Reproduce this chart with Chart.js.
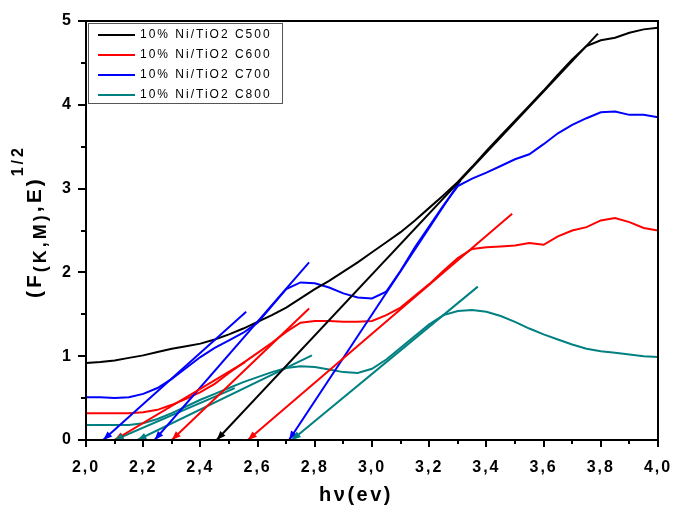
<!DOCTYPE html>
<html>
<head>
<meta charset="utf-8">
<script src="https://cdn.jsdelivr.net/npm/chart.js@4.4.0/dist/chart.umd.min.js"></script>
<style>
  html, body { margin: 0; padding: 0; background: #fff; }
  canvas { display: block; }
</style>
</head>
<body>
<canvas id="chart" width="673" height="506"></canvas>
<script>
// Photon energy grid (eV) shared by the four spectra
const energy = [2.00, 2.05, 2.10, 2.15, 2.20, 2.25, 2.30, 2.35, 2.40, 2.45,
  2.50, 2.55, 2.60, 2.65, 2.70, 2.75, 2.80, 2.85, 2.90, 2.95,
  3.00, 3.05, 3.10, 3.15, 3.20, 3.25, 3.30, 3.35, 3.40, 3.45,
  3.50, 3.55, 3.60, 3.65, 3.70, 3.75, 3.80, 3.85, 3.90, 3.95, 4.00];

// (F(R)·E)^1/2
const c500 = [0.92, 0.93, 0.95, 0.98, 1.01, 1.05, 1.09, 1.12, 1.15, 1.20,
  1.26, 1.33, 1.41, 1.49, 1.58, 1.69, 1.80, 1.90, 2.01, 2.12,
  2.24, 2.36, 2.48, 2.62, 2.77, 2.92, 3.08, 3.26, 3.45, 3.63,
  3.81, 3.99, 4.17, 4.36, 4.54, 4.70, 4.77, 4.80, 4.86, 4.90, 4.92];
const c600 = [0.32, 0.32, 0.32, 0.32, 0.33, 0.36, 0.42, 0.49, 0.57, 0.67,
  0.80, 0.92, 1.04, 1.16, 1.29, 1.40, 1.42, 1.42, 1.41, 1.41,
  1.42, 1.49, 1.58, 1.72, 1.86, 2.02, 2.17, 2.28, 2.30, 2.31,
  2.32, 2.35, 2.33, 2.43, 2.50, 2.54, 2.62, 2.65, 2.60, 2.53, 2.50];
const c700 = [0.51, 0.51, 0.50, 0.51, 0.55, 0.62, 0.73, 0.86, 0.99, 1.10,
  1.19, 1.28, 1.40, 1.60, 1.80, 1.88, 1.87, 1.82, 1.75, 1.70,
  1.69, 1.77, 2.02, 2.30, 2.55, 2.80, 3.03, 3.12, 3.19, 3.27,
  3.35, 3.41, 3.53, 3.66, 3.76, 3.84, 3.91, 3.92, 3.88, 3.88, 3.85];
const c800 = [0.18, 0.18, 0.18, 0.18, 0.20, 0.25, 0.32, 0.40, 0.48, 0.55,
  0.62, 0.69, 0.75, 0.81, 0.86, 0.88, 0.87, 0.84, 0.81, 0.80,
  0.85, 0.96, 1.10, 1.24, 1.38, 1.49, 1.54, 1.55, 1.53, 1.48,
  1.41, 1.33, 1.26, 1.20, 1.14, 1.09, 1.06, 1.04, 1.02, 1.00, 0.99];

const seriesLabels = ['10% Ni/TiO2 C500', '10% Ni/TiO2 C600', '10% Ni/TiO2 C700', '10% Ni/TiO2 C800'];
const seriesColors = ['#000000', '#ff0000', '#0000ff', '#008080'];

// Tauc tangents: [x-intercept, x end, y end]
const c500Tangents = [[2.457, 3.79, 4.85]];
const c600Tangents = [[2.10, 2.556, 0.93], [2.30, 2.78, 1.57], [2.566, 3.49, 2.70]];
const c700Tangents = [[2.06, 2.56, 1.53], [2.24, 2.78, 2.12], [2.71, 3.31, 3.10]];
const c800Tangents = [[2.10, 2.52, 0.62], [2.18, 2.79, 1.01], [2.72, 3.37, 1.83]];

// Axis ticks
const xMajorTicks = [2.0, 2.2, 2.4, 2.6, 2.8, 3.0, 3.2, 3.4, 3.6, 3.8, 4.0];
const xMinorTicks = [2.1, 2.3, 2.5, 2.7, 2.9, 3.1, 3.3, 3.5, 3.7, 3.9];
const yMajorTicks = [0, 1, 2, 3, 4, 5];
const yMinorTicks = [0.5, 1.5, 2.5, 3.5, 4.5];

const FONT = 'Arial, "Liberation Sans", sans-serif';

const curves = [c500, c600, c700, c800];
const tangentSets = [c500Tangents, c600Tangents, c700Tangents, c800Tangents];

const datasets = [];
tangentSets.forEach((set, s) => {
  set.forEach(t => {
    datasets.push({
      label: '',
      data: [{ x: t[0], y: 0 }, { x: t[1], y: t[2] }],
      borderColor: seriesColors[s],
      borderWidth: 2,
      arrow: true,
    });
  });
});
curves.forEach((vals, s) => {
  datasets.push({
    label: seriesLabels[s],
    data: energy.map((e, i) => ({ x: e, y: vals[i] })),
    borderColor: seriesColors[s],
    borderWidth: 2,
  });
});

/**
 * Frame, minor ticks, arrowheads, legend and axis titles
 */
const decorPlugin = {
  id: 'decor',
  beforeDraw(chart) {
    chart.ctx.letterSpacing = '2px';
  },
  afterDatasetsDraw(chart) {
    const ctx = chart.ctx;
    ctx.save();
    chart.data.datasets.forEach((ds, i) => {
      if (!ds.arrow) return;
      const pts = chart.getDatasetMeta(i).data;
      const tip = pts[0], tail = pts[1];
      const ang = Math.atan2(tip.y - tail.y, tip.x - tail.x);
      const len = 9, half = 3.5;
      const bx = tip.x - len * Math.cos(ang), by = tip.y - len * Math.sin(ang);
      ctx.fillStyle = ds.borderColor;
      ctx.beginPath();
      ctx.moveTo(tip.x, tip.y);
      ctx.lineTo(bx + half * Math.sin(ang), by - half * Math.cos(ang));
      ctx.lineTo(bx - half * Math.sin(ang), by + half * Math.cos(ang));
      ctx.closePath();
      ctx.fill();
    });
    ctx.restore();
  },
  afterDraw(chart) {
    const ctx = chart.ctx;
    const a = chart.chartArea;
    const xs = chart.scales.x, ys = chart.scales.y;
    ctx.save();

    // frame
    ctx.strokeStyle = '#000';
    ctx.lineWidth = 2;
    ctx.strokeRect(a.left, a.top, a.right - a.left, a.bottom - a.top);

    // minor ticks
    ctx.beginPath();
    xMinorTicks.forEach(v => {
      const px = Math.round(xs.getPixelForValue(v));
      ctx.moveTo(px, a.bottom);
      ctx.lineTo(px, a.bottom + 4);
    });
    yMinorTicks.forEach(v => {
      const py = Math.round(ys.getPixelForValue(v));
      ctx.moveTo(a.left, py);
      ctx.lineTo(a.left - 5, py);
    });
    ctx.stroke();

    // legend
    const lx = a.left + 2, ly = a.top + 2, lw = 194, lh = 80;
    ctx.fillStyle = '#fff';
    ctx.fillRect(lx, ly, lw, lh);
    ctx.strokeStyle = '#555';
    ctx.lineWidth = 1;
    ctx.strokeRect(lx + 0.5, ly + 0.5, lw, lh);
    ctx.font = `12px ${FONT}`;
    ctx.letterSpacing = '2px';
    ctx.textBaseline = 'middle';
    ctx.textAlign = 'left';
    seriesLabels.forEach((lab, i) => {
      const y = ly + 12 + i * 20;
      ctx.strokeStyle = seriesColors[i];
      ctx.lineWidth = 2;
      ctx.beginPath();
      ctx.moveTo(lx + 10, y);
      ctx.lineTo(lx + 47, y);
      ctx.stroke();
      ctx.fillStyle = '#000';
      ctx.fillText(lab, lx + 52, y);
    });

    // x title
    ctx.fillStyle = '#000';
    ctx.letterSpacing = '2.5px';
    ctx.font = `bold 20px ${FONT}`;
    ctx.textAlign = 'center';
    ctx.textBaseline = 'middle';
    ctx.fillText('h\u03bd(ev)', 356, 495);

    // y title with subscript and superscript
    ctx.letterSpacing = '3px';
    ctx.translate(41, 298);
    ctx.rotate(-Math.PI / 2);
    ctx.textAlign = 'left';
    ctx.textBaseline = 'alphabetic';
    let x = 0;
    const part = (t, size, dy) => {
      ctx.font = `bold ${size}px ${FONT}`;
      ctx.fillText(t, x, dy);
      x += ctx.measureText(t).width;
    };
    part('(F', 21, 0);
    part('(K,M)', 18, 5);
    part(',E)', 21, 0);
    part('1/2', 16, -18);

    ctx.restore();
    ctx.letterSpacing = '0px';
  },
};

const tickFont = { family: FONT, size: 16, weight: 'bold' };

new Chart(document.getElementById('chart'), {
  type: 'scatter',
  data: { datasets },
  options: {
    responsive: false,
    animation: false,
    showLine: true,
    elements: { point: { radius: 0, hoverRadius: 0 }, line: { tension: 0 } },
    layout: { padding: { top: 21, right: 15, left: 0, bottom: 0 } },
    plugins: { legend: { display: false }, tooltip: { enabled: false } },
    scales: {
      x: {
        type: 'linear',
        min: 2,
        max: 4,
        afterBuildTicks: scale => { scale.ticks = xMajorTicks.map(v => ({ value: v })); },
        afterFit: scale => {
          scale.height = 66;
          scale.paddingLeft = 0;
          scale.paddingRight = 0;
        },
        ticks: {
          autoSkip: false,
          maxRotation: 0,
          padding: 11,
          color: '#000',
          font: tickFont,
          callback: v => Number(v).toFixed(1).replace('.', ','),
        },
        grid: { drawOnChartArea: false, tickLength: 7, color: '#000', lineWidth: 2 },
        border: { color: '#000', width: 2 },
      },
      y: {
        type: 'linear',
        min: 0,
        max: 5,
        afterBuildTicks: scale => { scale.ticks = yMajorTicks.map(v => ({ value: v })); },
        afterFit: scale => {
          scale.width = 86;
          scale.paddingTop = 0;
          scale.paddingBottom = 0;
        },
        ticks: {
          autoSkip: false,
          padding: 5,
          color: '#000',
          font: tickFont,
          callback: v => String(v),
        },
        grid: { drawOnChartArea: false, tickLength: 8, color: '#000', lineWidth: 2 },
        border: { color: '#000', width: 2 },
      },
    },
  },
  plugins: [decorPlugin],
});
</script>
</body>
</html>
